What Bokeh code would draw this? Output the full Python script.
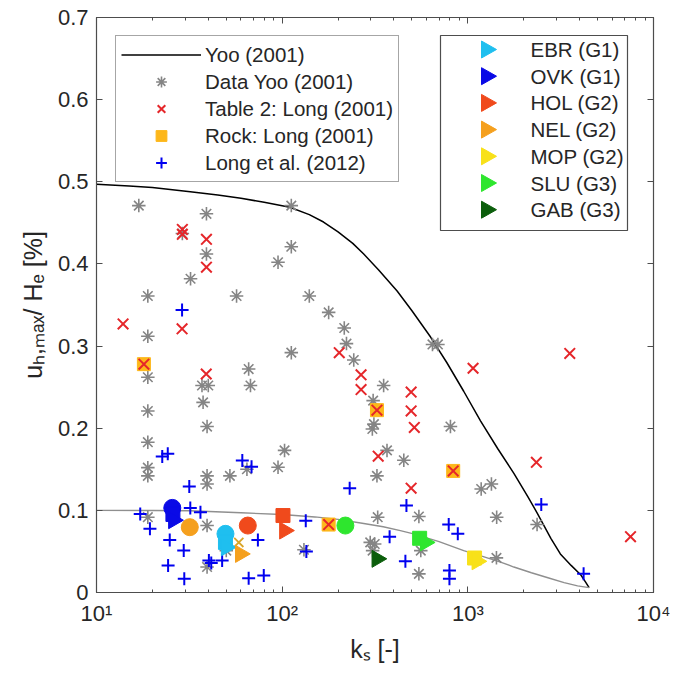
import numpy as np
from bokeh.plotting import figure
from bokeh.models import (Range1d, LinearAxis, LogAxis, FixedTicker, Legend, LegendItem,
                          PolyAnnotation, BoxAnnotation, Label, CustomLabelingPolicy)
from bokeh.embed import file_html
from bokeh.resources import INLINE

# ---------------- data ----------------
# Yoo (2001) design curve (upper, black) and lower curve (grey)
yoo_k = [10, 15, 20, 32, 45, 60, 80, 110, 140, 167, 200, 240, 275, 330, 416, 500, 630, 770, 950,
         1170, 1450, 1770, 2100, 2360, 2800, 3150, 3600, 4040, 4300, 4500]
yoo_v = [0.497, 0.495, 0.493, 0.488, 0.484, 0.480, 0.475, 0.469, 0.460, 0.451, 0.439, 0.425, 0.412,
         0.393, 0.367, 0.343, 0.311, 0.280, 0.245, 0.209, 0.175, 0.145, 0.117, 0.097, 0.066, 0.047,
         0.033, 0.022, 0.013, 0.006]
low_k = [10, 20, 32, 60, 100, 150, 200, 275, 350, 433, 510, 700, 950, 1200, 1500, 1770, 2200, 2700,
         3300, 3900, 4500]
low_v = [0.100, 0.0998, 0.0995, 0.097, 0.095, 0.092, 0.089, 0.084, 0.080, 0.0754, 0.0714, 0.062,
         0.051, 0.044, 0.037, 0.031, 0.024, 0.018, 0.012, 0.008, 0.006]

# Data Yoo (2001)
yoo_data_k = [16.9, 39.1, 112, 29, 39.1, 112, 95, 32.1, 18.9, 56.8, 140, 178, 18.9, 216, 222, 112,
              243, 645, 690, 18.9, 66, 37, 40, 67.5, 352, 37.5, 309, 18.9, 39.4, 312, 306, 806,
              18.9, 103, 367, 452, 64.6, 95, 18.9, 18.9, 39.4, 39.4, 52.3, 324, 1340, 1180,
              18.9, 39.4, 50, 39.4, 131, 327, 545, 1430, 298, 315, 307, 558, 545, 1426, 2360]
yoo_data_v = [0.471, 0.461, 0.471, 0.437, 0.412, 0.421, 0.402, 0.382, 0.361, 0.361, 0.361, 0.341,
              0.312, 0.322, 0.303, 0.292, 0.283, 0.302, 0.302, 0.262, 0.272, 0.252, 0.252, 0.252,
              0.252, 0.2315, 0.2336, 0.221, 0.202, 0.205, 0.199, 0.202, 0.183, 0.173, 0.173, 0.161,
              0.150, 0.1525, 0.152, 0.142, 0.142, 0.132, 0.142, 0.142, 0.132, 0.126, 0.0917,
              0.0815, 0.051, 0.031, 0.052, 0.0917, 0.0925, 0.0917, 0.061, 0.059, 0.051, 0.051,
              0.0227, 0.0422, 0.0827]

# Table 2: Long (2001)
t2_k = [13.9, 29, 29, 39.1, 39.1, 28.9, 39, 18, 203, 266, 266, 495, 495, 515, 324, 329, 834, 495,
        1067, 2340, 3540, 7520, 178]
t2_v = [0.327, 0.442, 0.436, 0.430, 0.396, 0.321, 0.266, 0.278, 0.292, 0.265, 0.247, 0.244, 0.221,
        0.201, 0.222, 0.166, 0.148, 0.127, 0.273, 0.1585, 0.291, 0.068, 0.0827]

# Rock: Long (2001)
rock_k = [18, 324, 834, 178]
rock_v = [0.278, 0.222, 0.148, 0.0827]

# Long et al. (2012)
long_k = [28.9, 22.6, 24.2, 61, 68.4, 31.6, 231, 17.2, 19.4, 32, 36.3, 24.8, 29.5, 24.3, 29.7,
          40.3, 41.5, 47.5, 74, 66, 79.6, 134, 135, 379, 467, 461, 789, 883, 796, 796, 2486, 4203]
long_v = [0.344, 0.1655, 0.169, 0.1606, 0.153, 0.129, 0.127, 0.0957, 0.0775, 0.103, 0.0977, 0.064,
          0.051, 0.033, 0.0167, 0.039, 0.036, 0.039, 0.064, 0.0172, 0.0207, 0.0873, 0.050, 0.068,
          0.1058, 0.038, 0.0827, 0.0714, 0.0268, 0.0167, 0.107, 0.0227]

# Sites (triangles in legend; circles / squares share the colours)
site_names = ["EBR (G1)", "OVK (G1)", "HOL (G2)", "NEL (G2)", "MOP (G2)", "SLU (G3)", "GAB (G3)"]
site_colors = ["#1fbfef", "#0a0ae6", "#f04a1c", "#f5a01e", "#f8e11a", "#2ee62e", "#0b5e0b"]
tri_k = [50, 26, 103, 59.6, 1120, 590, 324]
tri_v = [0.055, 0.088, 0.0754, 0.047, 0.038, 0.061, 0.041]
circ_site = [0, 1, 2, 3, 5]
circ_k = [49.5, 25.6, 65.3, 31.8, 219]
circ_v = [0.0714, 0.103, 0.0815, 0.0795, 0.0815]
sq_site = [0, 1, 2, 4, 5]
sq_k = [49.5, 25.8, 101, 1087, 550]
sq_v = [0.061, 0.095, 0.0937, 0.042, 0.066]
misc_x_k = [58.4]
misc_x_v = [0.061]

xticks = [10, 100, 1000, 10000]
xtick_labels = ["10\u00b9", "10\u00b2", "10\u00b3", "10\u2074"]
yticks = [0, 0.1, 0.2, 0.3, 0.4, 0.5, 0.6, 0.7]
ytick_labels = ["0", "0.1", "0.2", "0.3", "0.4", "0.5", "0.6", "0.7"]

# ---------------- figure ----------------
FONT = "Liberation Sans"
TXT = "#262626"
AX = "#4d4d4d"
FRAME_L, FRAME_B = 96, 592   # frame left / bottom in canvas pixels

p = figure(width=681, height=673, x_axis_type="log", output_backend="svg", toolbar_location=None,
           x_range=Range1d(10, 10000), y_range=Range1d(0, 0.7),
           min_border_left=96, min_border_right=28, min_border_top=17, min_border_bottom=81)
p.xgrid.visible = False
p.ygrid.visible = False
p.outline_line_color = AX
p.outline_line_width = 1.2
p.background_fill_color = "white"
p.border_fill_color = "white"

minor = [m * 10 ** e for e in range(1, 4) for m in range(2, 10)]
xt = FixedTicker(ticks=xticks, minor_ticks=minor)
yt = FixedTicker(ticks=yticks, minor_ticks=[])

no_labels = "for (const i of Array.from(indices)) { indices.unset(i) } return indices"


def style_axis(ax, labels=True):
    ax.axis_line_color = AX
    ax.major_tick_line_color = AX
    ax.minor_tick_line_color = AX
    ax.major_tick_in = 6
    ax.major_tick_out = 0
    ax.minor_tick_in = 3
    ax.minor_tick_out = 0
    ax.major_label_text_font = FONT
    ax.major_label_text_color = TXT
    ax.axis_label_text_font = FONT
    ax.axis_label_text_color = TXT
    ax.axis_label_text_font_size = "25px"
    ax.axis_label_text_font_style = "normal"
    if labels:
        ax.major_label_text_font_size = "22px"
    else:
        ax.major_label_text_font_size = "1px"
        ax.major_label_standoff = 0
        ax.major_label_policy = CustomLabelingPolicy(code=no_labels)


p.xaxis.ticker = xt
p.xaxis.major_label_overrides = dict(zip(xticks, xtick_labels))
p.yaxis.ticker = yt
p.yaxis.major_label_overrides = dict(zip(yticks, ytick_labels))
style_axis(p.xaxis[0])
style_axis(p.yaxis[0])
p.xaxis.axis_label = "k\u209b [-]"
p.yaxis.axis_label = "u\u2095,\u2098\u2090\u2093/ H\u2091 [%]"
p.xaxis.major_label_standoff = 8
p.yaxis.major_label_standoff = 8
p.xaxis.axis_label_standoff = 6
p.yaxis.axis_label_standoff = 8

ra = LinearAxis(ticker=yt)
style_axis(ra, labels=False)
p.add_layout(ra, "right")
ta = LogAxis(ticker=xt)
style_axis(ta, labels=False)
p.add_layout(ta, "above")

# ---------------- glyphs ----------------
r_yoo = p.line(yoo_k, yoo_v, line_color="black", line_width=1.5)
p.line(low_k, low_v, line_color="#8f8f8f", line_width=1.4)

r_star = p.scatter(yoo_data_k, yoo_data_v, marker="asterisk", size=13.5, line_color="#858585", line_width=1.6)
r_rock = p.scatter(rock_k, rock_v, marker="square", size=13, fill_color="#fdb71a", line_color="#fdb71a")
r_t2 = p.scatter(t2_k, t2_v, marker="x", size=15, line_color="#e5262a", line_width=2)
r_long = p.scatter(long_k, long_v, marker="cross", size=13, line_color="#0000f0", line_width=2)

p.scatter(misc_x_k, misc_x_v, marker="x", size=13, line_color="#d9a62a", line_width=1.8)
p.scatter(circ_k, circ_v, marker="circle", size=17,
          fill_color=[site_colors[i] for i in circ_site], line_color=[site_colors[i] for i in circ_site])
p.scatter(sq_k, sq_v, marker="square", size=14,
          fill_color=[site_colors[i] for i in sq_site], line_color=[site_colors[i] for i in sq_site])
for i in range(len(site_names)):
    p.scatter([tri_k[i]], [tri_v[i]], marker="triangle", size=17, angle=-np.pi / 2,
              fill_color=site_colors[i], line_color=site_colors[i])

# ---------------- left legend ----------------
ROW = 27
leg1 = Legend(items=[
    LegendItem(label="Yoo (2001)", renderers=[r_yoo]),
    LegendItem(label="Data Yoo (2001)", renderers=[r_star]),
    LegendItem(label="Table 2: Long (2001)", renderers=[r_t2]),
    LegendItem(label="Rock: Long (2001)", renderers=[r_rock]),
    LegendItem(label="Long et al. (2012)", renderers=[r_long]),
], location=(115 - FRAME_L, FRAME_B - 182), glyph_width=80, glyph_height=ROW, label_height=ROW,
    spacing=0, padding=5, label_standoff=4, margin=0)
leg1.label_text_font = FONT
leg1.label_text_font_size = "20.5px"
leg1.label_text_color = TXT
leg1.border_line_color = AX
leg1.border_line_width = 1.2
leg1.background_fill_color = "white"
leg1.background_fill_alpha = 1.0
p.add_layout(leg1)

# ---------------- right legend (right-pointing triangle symbols) ----------------
B_LEFT, B_RIGHT, B_TOP, B_BOTTOM = 440, 627, 35, 230     # canvas pixels
FIRST_ROW, PITCH = 49, 26.7
SYM_X, TXT_X = 488, 530


def fx(x):
    return x - FRAME_L


def fy(y):
    return FRAME_B - y


p.add_layout(BoxAnnotation(left=fx(B_LEFT), right=fx(B_RIGHT), top=fy(B_TOP), bottom=fy(B_BOTTOM),
                           left_units="screen", right_units="screen", top_units="screen",
                           bottom_units="screen", fill_color="white", fill_alpha=1.0,
                           line_color=AX, line_width=1.2, line_alpha=1.0, level="annotation"))
for i, name in enumerate(site_names):
    cy = fy(FIRST_ROW + i * PITCH)
    cx = fx(SYM_X)
    p.add_layout(PolyAnnotation(xs=[cx - 7, cx - 7, cx + 8], ys=[cy + 8.5, cy - 8.5, cy],
                                xs_units="screen", ys_units="screen",
                                fill_color=site_colors[i], fill_alpha=1.0,
                                line_color=site_colors[i], line_alpha=1.0, level="overlay"))
    p.add_layout(Label(x=fx(TXT_X), y=cy, x_units="screen", y_units="screen", text=name,
                       text_font=FONT, text_font_size="20.5px", text_color=TXT,
                       text_baseline="middle", text_align="left", level="overlay"))

open("out.html", "w").write(file_html(p, INLINE))
